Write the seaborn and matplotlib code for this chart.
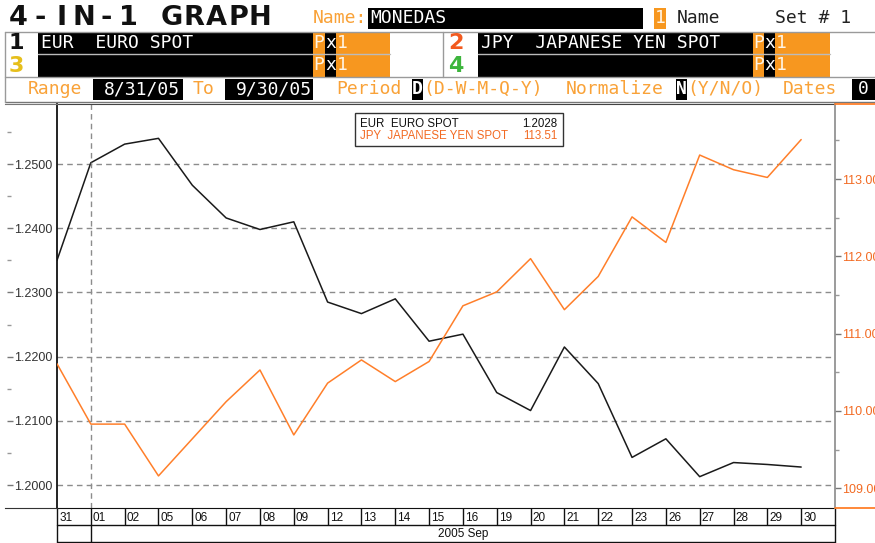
import matplotlib
matplotlib.use("Agg")
import matplotlib.pyplot as plt
import matplotlib.transforms as mtransforms
from matplotlib.patches import Rectangle
from matplotlib.lines import Line2D
from matplotlib.ticker import MultipleLocator, FormatStrFormatter
import seaborn as sns
import pandas as pd
import numpy as np

# trading days, Aug 31 - Sep 30 2005
days = ["31", "01", "02", "05", "06", "07", "08", "09", "12", "13", "14", "15",
        "16", "19", "20", "21", "22", "23", "26", "27", "28", "29", "30"]
eur = [1.2350, 1.2502, 1.2531, 1.2540, 1.2467, 1.2416, 1.2398, 1.2410, 1.2285,
       1.2267, 1.2290, 1.2224, 1.2235, 1.2144, 1.2116, 1.2215, 1.2158, 1.2043,
       1.2072, 1.2013, 1.2035, 1.2032, 1.2028]
jpy = [110.61, 109.83, 109.83, 109.16, 109.64, 110.12, 110.53, 109.69, 110.36,
       110.66, 110.38, 110.64, 111.36, 111.54, 111.97, 111.31, 111.74, 112.51,
       112.18, 113.31, 113.12, 113.02, 113.51]
eur_name = "EUR  EURO SPOT"
jpy_name = "JPY  JAPANESE YEN SPOT"
eur_ticks = [1.2000, 1.2100, 1.2200, 1.2300, 1.2400, 1.2500]
jpy_ticks = [109.0, 110.0, 111.0, 112.0, 113.0]
month_label = "2005 Sep"

W, H = 875, 543
BLACK = "#1a1a1a"
ORANGE_LINE = "#ff7f2a"
AMBER = "#f7971f"
AMBER_TXT = "#f9a238"
GRID = "#8c8c8c"

sns.set_style("white")
plt.rcParams['font.family'] = ['Liberation Sans', 'DejaVu Sans']

fig = plt.figure(figsize=(W / 100, H / 100), dpi=100)


def box(x0, y0, x1, y1, fc):
    fig.patches.append(Rectangle((x0 / W, 1 - y1 / H), (x1 - x0) / W, (y1 - y0) / H,
                                 transform=fig.transFigure, facecolor=fc,
                                 edgecolor="none", zorder=1))


def hline(x0, x1, y, color="#9a9a9a", lw=1.0):
    fig.add_artist(Line2D([x0 / W, x1 / W], [1 - y / H, 1 - y / H], color=color,
                          lw=lw, transform=fig.transFigure))


def vline(x, y0, y1, color="#9a9a9a", lw=1.0):
    fig.add_artist(Line2D([x / W, x / W], [1 - y0 / H, 1 - y1 / H], color=color,
                          lw=lw, transform=fig.transFigure))


def label(x, y, s, color, size=13, weight="normal", ha="left", family="DejaVu Sans Mono"):
    fig.text(x / W, 1 - y / H, s, color=color, fontsize=size, fontweight=weight,
             ha=ha, va="center", family=family, zorder=3)


# ---- header ----
for i, ch in enumerate("4-IN-1 GRAPH"):
    label(18 + i * 22, 18, ch, "#111111", size=19.5, weight="bold", ha="center",
          family="DejaVu Sans")
label(313, 18, "Name:", AMBER_TXT)
box(368, 8, 643, 29, "black")
label(370, 18, "MONEDAS", "white")
box(654, 8, 666, 29, AMBER)
label(660, 18, "1", "#fff4e4", ha="center")
label(677, 18, "Name", "#222222")
label(775, 18, "Set # 1", "#222222")

# series rows
rows = [(43, "1", "#111111", eur_name, "2", "#f25a1f", jpy_name),
        (65.5, "3", "#e6bf1c", "", "4", "#3db53d", "")]
for yc, n1, c1, s1, n2, c2, s2 in rows:
    y0, y1 = yc - 11, yc + 11
    label(16, yc, n1, c1, size=16, weight="bold", ha="center", family="DejaVu Sans")
    box(38, y0, 313, y1, "black")
    label(41, yc, s1, "white")
    box(313, y0, 325, y1, AMBER)
    label(319, yc, "P", "#fff4e4", ha="center")
    box(325, y0, 336, y1, "black")
    label(330.5, yc, "x", "white", ha="center")
    box(336, y0, 390, y1, AMBER)
    label(337, yc, "1", "#fff4e4")
    label(456, yc, n2, c2, size=16, weight="bold", ha="center", family="DejaVu Sans")
    box(478, y0, 753, y1, "black")
    label(481, yc, s2, "white")
    box(753, y0, 764, y1, AMBER)
    label(758.5, yc, "P", "#fff4e4", ha="center")
    box(764, y0, 775, y1, "black")
    label(769.5, yc, "x", "white", ha="center")
    box(775, y0, 830, y1, AMBER)
    label(776, yc, "1", "#fff4e4")

# range row
yr = 89
label(28, yr, "Range", AMBER_TXT)
box(93, 79, 183, 100, "black")
label(104, yr, "8/31/05", "white")
label(193, yr, "To", AMBER_TXT)
box(225, 79, 313, 100, "black")
label(236, yr, "9/30/05", "white")
label(336, yr, "Period", AMBER_TXT)
box(412, 79, 423, 100, "black")
label(417.5, yr, "D", "white", ha="center", weight="bold")
label(423, yr, "(D-W-M-Q-Y)", AMBER_TXT)
label(566, yr, "Normalize", AMBER_TXT)
box(676, 79, 687, 100, "black")
label(681.5, yr, "N", "white", ha="center", weight="bold")
label(687, yr, "(Y/N/O)", AMBER_TXT)
label(783, yr, "Dates", AMBER_TXT)
box(852, 79, 875, 100, "black")
label(863, yr, "0", "white", ha="center")

hline(5, 875, 31.5)
hline(38, 390, 54, "#bbbbbb")
hline(478, 830, 54, "#bbbbbb")
hline(5, 875, 77)
hline(5, 875, 101.5, "#777777")
vline(5, 31.5, 101.5)
vline(443, 31.5, 77)

# ---- plot ----
x0, x1, ytop, ybot = 57, 835, 104, 508
ax = fig.add_axes([x0 / W, 1 - ybot / H, (x1 - x0) / W, (ybot - ytop) / H])
lax = fig.add_axes([5 / W, 1 - ybot / H, (x0 - 5) / W, (ybot - ytop) / H], sharey=ax)

df = pd.DataFrame({"pos": np.arange(len(days)), "day": days, "EUR": eur, "JPY": jpy})

sns.lineplot(data=df, x="pos", y="EUR", ax=ax, color=BLACK, linewidth=1.1)
ax2 = ax.twinx()
sns.lineplot(data=df, x="pos", y="JPY", ax=ax2, color=ORANGE_LINE, linewidth=1.1)

n = len(days)
ax.set_xlim(0, n)
ax.set_ylim(1.19642, 1.25935)
ax2.set_ylim(108.745, 113.97)
for a in (ax, ax2, lax):
    a.set_xlabel("")
    a.set_ylabel("")

# left value panel
lax.set_yticks(eur_ticks)
lax.yaxis.set_minor_locator(MultipleLocator(0.005))
lax.yaxis.set_major_formatter(FormatStrFormatter("%.4f"))
lax.yaxis.tick_right()
lax.spines["right"].set_position(("axes", 2 / 52))
lax.spines["right"].set_color("none")
lax.spines["left"].set_visible(False)
lax.spines["top"].set_color("#777777")
lax.spines["bottom"].set_color("#333333")
lax.set_facecolor("none")
lax.set_xticks([])
lax.tick_params(axis="y", which="major", direction="out", length=4, width=1,
                color="#777777", pad=1, labelsize=9, labelcolor="#333333")
lax.tick_params(axis="y", which="minor", direction="out", length=3, width=1,
                color="#999999")

# main axes
ax.tick_params(axis="y", which="both", left=False, right=False, labelleft=False)
ax.yaxis.grid(True, which="major", color=GRID, ls=(0, (4, 3)), lw=1)
ax.axvline(days.index("01"), color=GRID, ls=(0, (4, 3)), lw=1)
ax.set_xticks(df["pos"])
ax.set_xticklabels(days)
ax.set_xticks(np.arange(n + 1), minor=True)
ax.xaxis.remove_overlapping_locs = False
ax.tick_params(axis="x", which="major", bottom=True, length=0, pad=3, labelsize=8.5,
               labelcolor="#111111")
ax.tick_params(axis="x", which="minor", bottom=True, length=12.2, width=1,
               color="#111111", direction="out")
shift = mtransforms.ScaledTranslation(1.5 / 72, 0, fig.dpi_scale_trans)
for lbl in ax.get_xticklabels():
    lbl.set_ha("left")
    lbl.set_transform(lbl.get_transform() + shift)
ax.spines["left"].set_color("#111111")
ax.spines["left"].set_linewidth(1.3)
ax.spines["bottom"].set_color("#111111")
ax.spines["top"].set_color("#444444")
ax.spines["right"].set_color("none")

# right axis
ax2.set_yticks(jpy_ticks)
ax2.yaxis.set_minor_locator(MultipleLocator(0.5))
ax2.yaxis.set_major_formatter(FormatStrFormatter("%.2f"))
ax2.tick_params(axis="y", which="major", direction="out", length=4, width=1,
                color="#777777", pad=1, labelsize=9, labelcolor="#f26a22")
ax2.tick_params(axis="y", which="minor", direction="out", length=3, width=1, color="#999999")
for s in ("left", "top", "bottom"):
    ax2.spines[s].set_visible(False)
ax2.spines["right"].set_color("#8a8a8a")
ax2.spines["right"].set_linewidth(1.2)

# date cell rows below the axis
r1, r2 = -17 / 404, -34 / 404
xt = ax.get_xaxis_transform()
for yy in (r1, r2):
    ax.plot([0, n], [yy, yy], transform=xt, clip_on=False, color="#111111", lw=1)
for xx in (0, days.index("01"), n):
    ax.plot([xx, xx], [r1, r2], transform=xt, clip_on=False, color="#111111", lw=1)
ax.text((days.index("01") + n) / 2, (r1 + r2) / 2, month_label, transform=xt,
        ha="center", va="center", fontsize=8.5, color="#111111")

# orange stubs right of the plot
hline(x1, W, ytop, ORANGE_LINE, 1.3)
hline(x1, W, ybot, ORANGE_LINE, 1.3)

# value legend box
lx0, lx1 = (355 - x0) / 778, (563 - x0) / 778
ly0, ly1 = 1 - (146 - ytop) / 404, 1 - (113 - ytop) / 404
ax2.add_patch(Rectangle((lx0, ly0), lx1 - lx0, ly1 - ly0, transform=ax2.transAxes,
                        facecolor="white", edgecolor="#333333", lw=1, zorder=5))
for yy, name, val, c in [(124, eur_name, f"{eur[-1]:.4f}", "#111111"),
                         (136, jpy_name, f"{jpy[-1]:.2f}", "#f26a22")]:
    ya = 1 - (yy - ytop) / 404
    ax2.text(lx0 + 0.007, ya, name, transform=ax2.transAxes, fontsize=8.3, color=c,
             va="center", ha="left", zorder=6)
    ax2.text(lx1 - 0.007, ya, val, transform=ax2.transAxes, fontsize=8.3, color=c,
             va="center", ha="right", zorder=6)

fig.savefig("out.png", dpi=100)
